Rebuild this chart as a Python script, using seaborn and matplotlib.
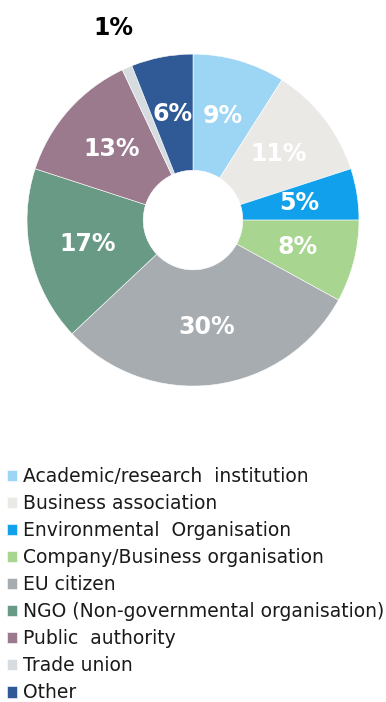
import matplotlib
matplotlib.use("Agg")
import matplotlib.pyplot as plt
import numpy as np
import seaborn as sns

categories = [
    "Academic/research  institution",
    "Business association",
    "Environmental  Organisation",
    "Company/Business organisation",
    "EU citizen",
    "NGO (Non-governmental organisation)",
    "Public  authority",
    "Trade union",
    "Other",
]
shares = [9, 11, 5, 8, 30, 17, 13, 1, 6]
colors = ["#9DD5F5", "#EAE9E6", "#10A0EC", "#A8D690", "#A7ACB1",
          "#689A86", "#9C7A8E", "#D6DCE0", "#2F5A95"]

sns.set_theme(style="white")
plt.rcParams["font.family"] = ["DejaVu Sans"]
palette = sns.color_palette(colors)

fig = plt.figure(figsize=(3.86, 7.02), dpi=100)
ax = fig.add_axes([0.07, 0.45, 0.86, 0.473])

wedges, _ = ax.pie(
    shares,
    colors=palette,
    startangle=90,
    counterclock=False,
    radius=1.0,
    wedgeprops=dict(width=0.7, edgecolor="white", linewidth=0.4),
)
ax.set_xlim(-1, 1)
ax.set_ylim(-1, 1)
ax.set_aspect("equal")
ax.axis("off")

# percentage labels inside the ring
angle = 90.0
for w, s in zip(wedges, shares):
    mid = np.deg2rad(angle - 360 * s / 200.0)
    angle -= 360 * s / 100.0
    if s <= 2:
        continue
    r = 0.65
    ax.text(r * np.cos(mid), r * np.sin(mid), f"{s}%", ha="center", va="center",
            color="white", fontsize=17, fontweight="bold")

# small slice labelled outside the ring
small = shares.index(1)
fig.text(113 / 386, 1 - 28 / 702, f"{shares[small]}%", ha="center", va="center",
         color="black", fontsize=17, fontweight="bold")

leg = fig.legend(
    wedges, categories,
    loc="upper left", bbox_to_anchor=(0.018, 1 - 467 / 702),
    frameon=False, fontsize=13.5,
    handlelength=0.55, handleheight=0.55, handletextpad=0.3,
    labelspacing=0.43, borderpad=0, borderaxespad=0,
)
for t in leg.get_texts():
    t.set_color("#1a1a1a")

fig.savefig("out.png", dpi=100, facecolor="white")
